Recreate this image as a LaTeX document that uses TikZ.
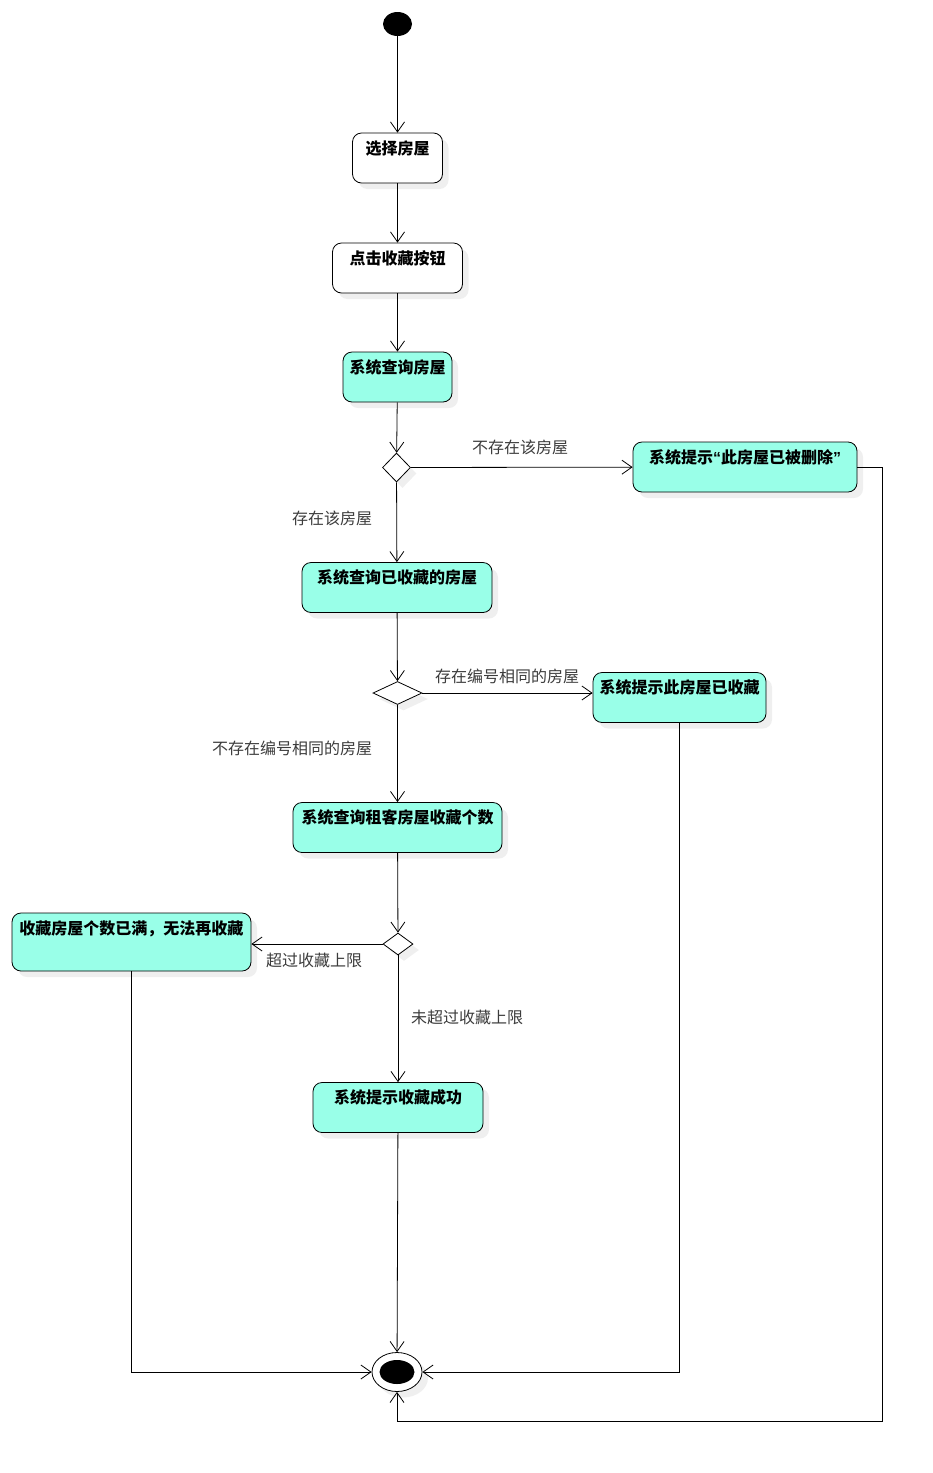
\documentclass[tikz,border=0pt]{standalone}
\usepackage{fontspec}
\setmainfont{Noto Sans CJK SC}
\newfontfamily\latinfont{Liberation Sans}
\usetikzlibrary{shapes.geometric,shadows,arrows.meta}

\definecolor{actfill}{RGB}{153,255,232}
\definecolor{lblgray}{RGB}{60,60,60}

\tikzset{
  flow/.style={draw, line width=0.8pt, -{Straight Barb[length=10pt,width=14pt]}},
  shade/.style={drop shadow={opacity=0.12, shadow xshift=6pt, shadow yshift=-6pt}},
  act/.style={draw, line width=0.8pt, rounded corners=9pt, fill=actfill, shade,
    font=\fontsize{16pt}{19pt}\selectfont\bfseries, inner xsep=4pt, inner ysep=0pt,
    text height=21pt, text depth=29pt},
  plain/.style={act, fill=white},
  choice/.style={draw, line width=0.8pt, diamond, fill=white, shade, inner sep=0pt},
  lbl/.style={font=\fontsize{16pt}{19pt}\selectfont, text=lblgray, inner sep=0pt}
}

\begin{document}
\begin{tikzpicture}[x=1pt, y=-1pt]
  \useasboundingbox[fill=white] (0,0) rectangle (933,1473);

  % start and end
  \node [ellipse, fill=black, minimum width=29pt, minimum height=24pt, inner sep=0pt] (start) at (397.5,24) {};
  \node [ellipse, draw, line width=0.8pt, fill=white, shade, minimum width=50pt, minimum height=39pt, inner sep=0pt] (end) at (397,1372) {};
  \node [ellipse, fill=black, minimum width=35pt, minimum height=24pt, inner sep=0pt] (endin) at (397,1372) {};

  % activities
  \node [plain, minimum width=90pt] (select) at (397.5,158) {选择房屋};
  \node [plain, minimum width=130pt] (clickfav) at (397.5,268) {点击收藏按钮};
  \node [act, minimum width=109pt] (queryhouse) at (397.5,377) {系统查询房屋};
  \node [act, minimum width=224pt] (deleted) at (745,467) {系统提示{\latinfont “}此房屋已被删除{\latinfont ”}};
  \node [act, minimum width=190pt] (queryfav) at (397,587.5) {系统查询已收藏的房屋};
  \node [act, minimum width=173pt] (already) at (679.5,697.5) {系统提示此房屋已收藏};
  \node [act, minimum width=209pt] (querycount) at (397.5,827.5) {系统查询租客房屋收藏个数};
  \node [act, minimum width=239pt, text depth=37pt] (full) at (131.5,942) {收藏房屋个数已满，无法再收藏};
  \node [act, minimum width=170pt] (success) at (398,1107.5) {系统提示收藏成功};

  % decisions
  \node [choice, minimum width=28pt, minimum height=29pt] (d1) at (396.5,467.5) {};
  \node [choice, minimum width=49pt, minimum height=23pt] (d2) at (397.5,693) {};
  \node [choice, minimum width=30pt, minimum height=22pt] (d3) at (398,944) {};

  % guard labels
  \node [lbl] (l1) at (520,447) {不存在该房屋};
  \node [lbl] (l2) at (332,518) {存在该房屋};
  \node [lbl] (l3) at (507,676) {存在编号相同的房屋};
  \node [lbl] (l4) at (292,748) {不存在编号相同的房屋};
  \node [lbl] (l5) at (314,960) {超过收藏上限};
  \node [lbl] (l6) at (467,1017) {未超过收藏上限};

  \coordinate (back) at (882,1421);

  % main flow
  \draw [flow] (start) -- (select);
  \draw [flow] (select) -- (clickfav);
  \draw [flow] (clickfav) -- (queryhouse);
  \draw [flow] (queryhouse) -- (d1);
  \draw [flow] (d1) -- (deleted);
  \draw [flow] (d1) -- (queryfav);
  \draw [flow] (queryfav) -- (d2);
  \draw [flow] (d2) -- (d2 -| already.west);
  \draw [flow] (d2) -- (querycount);
  \draw [flow] (querycount) -- (d3);
  \draw [flow] (d3) -- (d3 -| full.east);
  \draw [flow] (d3) -- (success);
  \draw [flow] (success) -- (end);

  % back to the end
  \draw [flow] (full.south) |- (end.west);
  \draw [flow] (already.south) |- (end.east);
  \draw [flow] (deleted.east) -| (back) -| (end.south);
\end{tikzpicture}
\end{document}
